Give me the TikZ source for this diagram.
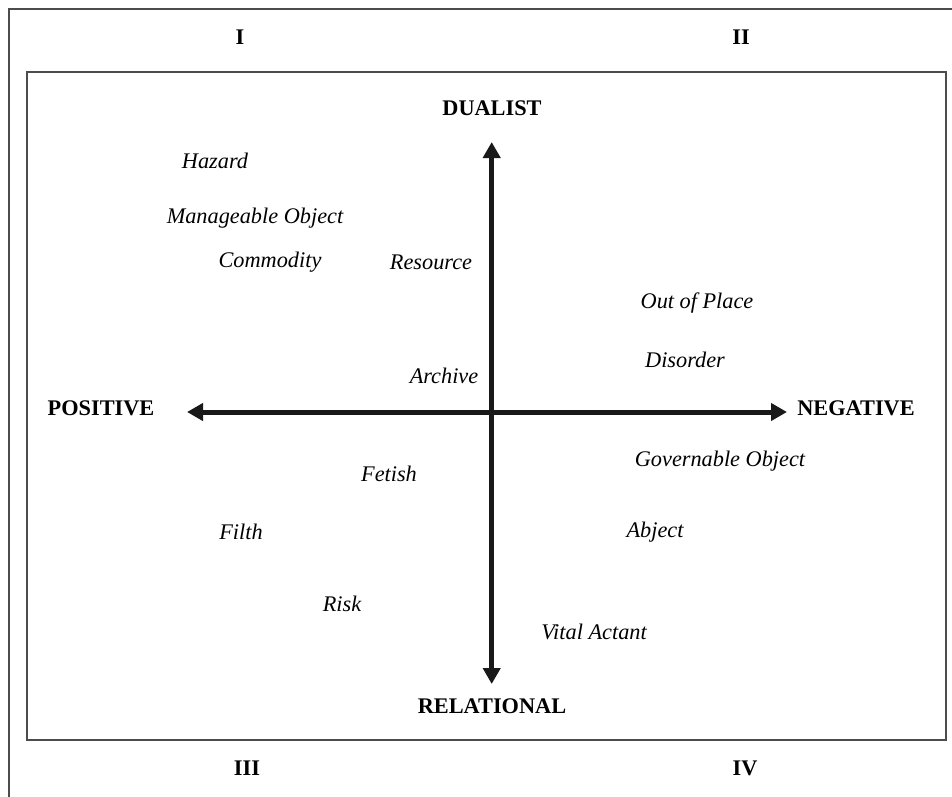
\documentclass[tikz,border=0pt]{standalone}
\usepackage{fontspec}
\setmainfont{Liberation Serif}
\usetikzlibrary{arrows.meta}
\begin{document}
\begin{tikzpicture}[x=1pt,y=-1pt,
  frame/.style={draw=black!70,line width=1.8pt},
  axis/.style={line width=5pt,black!90,-{Triangle[length=16pt,width=17pt]}},
  axlabel/.style={font=\fontsize{22.3}{26}\selectfont\bfseries,inner sep=0pt},
  quad/.style={font=\fontsize{22.3}{26}\selectfont\bfseries,inner sep=0pt},
  term/.style={font=\fontsize{22.3}{26}\selectfont\itshape,inner sep=0pt}]
\useasboundingbox (0,0) rectangle (952,796);
% outer frame (top and left)
\draw[frame] (8.7,800) -- (8.7,8.7) -- (960,8.7);
% inner box
\draw[frame] (27.3,71.7) rectangle (945.7,740.3);
% centre and axis ends
\coordinate (c) at (491.7,412);
\coordinate (top) at (491.7,142);
\coordinate (bot) at (491.7,684);
\coordinate (left) at (187,412);
\coordinate (right) at (787,412);
\draw[axis] (c) -- (top);
\draw[axis] (c) -- (bot);
\draw[axis] (c) -- (left);
\draw[axis] (c) -- (right);
% axis labels
\node[axlabel] (dual) at (492,108) {DUALIST};
\node[axlabel] (rel) at (492,706) {RELATIONAL};
\node[axlabel] (pos) at (101,408) {POSITIVE};
\node[axlabel] (neg) at (856,408) {NEGATIVE};
% quadrant numerals
\node[quad] (q1) at (240,37) {I};
\node[quad] (q2) at (741,37) {II};
\node[quad] (q3) at (247,768) {III};
\node[quad] (q4) at (745,768) {IV};
% terms
\node[term] (hazard) at (215,161) {Hazard};
\node[term] (manage) at (255,218) {Manageable Object};
\node[term] (commod) at (270,262) {Commodity};
\node[term] (resource) at (431,262) {Resource};
\node[term] (outplace) at (697,303) {Out of Place};
\node[term] (disorder) at (685,360) {Disorder};
\node[term] (archive) at (444,376) {Archive};
\node[term] (fetish) at (389,474) {Fetish};
\node[term] (govern) at (720,461) {Governable Object};
\node[term] (filth) at (241,532) {Filth};
\node[term] (abject) at (655,532) {Abject};
\node[term] (risk) at (342,604) {Risk};
\node[term] (vital) at (594,632) {Vital Actant};
\end{tikzpicture}
\end{document}
